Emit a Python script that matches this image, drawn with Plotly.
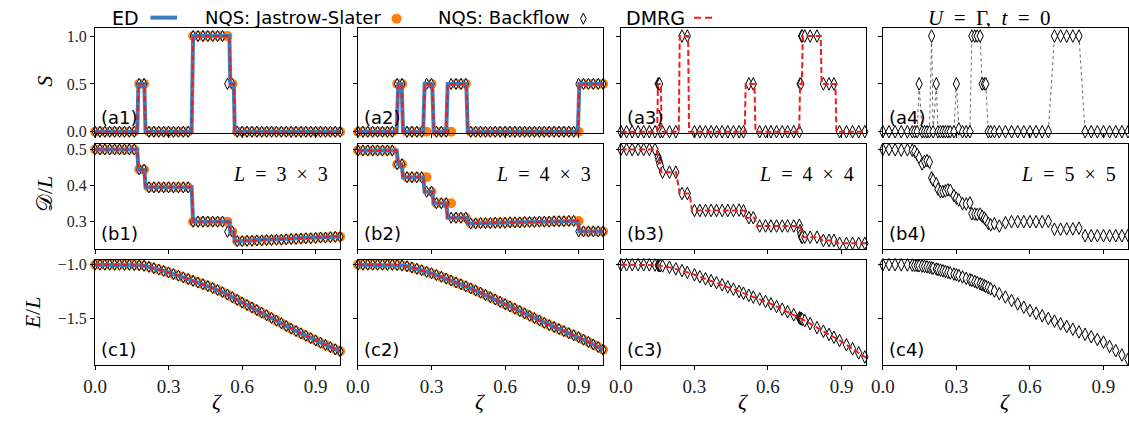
import plotly.graph_objects as go

# ---------------- data ----------------
ZETA_GRID = [0.0, 0.02, 0.04, 0.06, 0.08, 0.1, 0.12, 0.14, 0.16, 0.18,
             0.2, 0.22, 0.24, 0.26, 0.28, 0.3, 0.32, 0.34, 0.36, 0.38,
             0.4, 0.42, 0.44, 0.46, 0.48, 0.5, 0.52, 0.54, 0.56, 0.58,
             0.6, 0.62, 0.64, 0.66, 0.68, 0.7, 0.72, 0.74, 0.76, 0.78,
             0.8, 0.82, 0.84, 0.86, 0.88, 0.9, 0.92, 0.94, 0.96, 0.98, 1.0]
ZETA_COARSE = [0.0, 0.05, 0.1, 0.15, 0.2, 0.25, 0.3, 0.35, 0.4, 0.45, 0.5,
               0.55, 0.6, 0.65, 0.7, 0.75, 0.8, 0.85, 0.9, 0.95, 1.0]

# L = 3x3
ED_STEPS_3x3 = [0, 0.172, 0.177, 0.201, 0.206, 0.394, 0.40, 0.548, 0.552, 0.566, 0.57, 1.0]
S_ED_3x3 = [0, 0, 0.5, 0.5, 0, 0, 1, 1, 0.5, 0.5, 0, 0]
D_ED_3x3 = [0.5, 0.5, 0.444, 0.444, 0.395, 0.395, 0.30, 0.30, 0.272, 0.272, 0.246, 0.259]
S_JS_3x3 = [0, 0, 0, 0, 0, 0, 0, 0, 0, 0.5,
            0.5, 0, 0, 0, 0, 0, 0, 0, 0, 0,
            1, 1, 1, 1, 1, 1, 1, 1, 0.5, 0,
            0, 0, 0, 0, 0, 0, 0, 0, 0, 0,
            0, 0, 0, 0, 0, 0, 0, 0, 0, 0, 0]
S_BF_3x3 = [0, 0, 0, 0, 0, 0, 0, 0, 0, 0.5,
            0.5, 0, 0, 0, 0, 0, 0, 0, 0, 0,
            1, 1, 1, 1, 1, 1, 1, 0.5, 0.5, 0,
            0, 0, 0, 0, 0, 0, 0, 0, 0, 0,
            0, 0, 0, 0, 0, 0, 0, 0, 0, 0, 0]
D_JS_3x3 = [0.5, 0.5, 0.5, 0.5, 0.5, 0.5, 0.5, 0.5, 0.5, 0.445,
            0.444, 0.395, 0.395, 0.395, 0.395, 0.395, 0.395, 0.395, 0.395, 0.395,
            0.30, 0.30, 0.30, 0.30, 0.30, 0.30, 0.30, 0.30, 0.272, 0.246,
            0.246, 0.247, 0.247, 0.248, 0.248, 0.249, 0.249, 0.25, 0.25, 0.251,
            0.252, 0.252, 0.253, 0.254, 0.254, 0.255, 0.256, 0.256, 0.257, 0.258, 0.258]
D_BF_3x3 = [0.5, 0.5, 0.5, 0.5, 0.5, 0.5, 0.5, 0.5, 0.5, 0.445,
            0.444, 0.395, 0.395, 0.395, 0.395, 0.395, 0.395, 0.395, 0.395, 0.395,
            0.30, 0.30, 0.30, 0.30, 0.30, 0.30, 0.30, 0.272, 0.272, 0.246,
            0.246, 0.247, 0.247, 0.248, 0.248, 0.249, 0.249, 0.25, 0.25, 0.251,
            0.252, 0.252, 0.253, 0.254, 0.254, 0.255, 0.256, 0.256, 0.257, 0.258, 0.258]
E_3x3 = [-1.0, -1.0, -1.0, -1.0, -1.0, -1.0, -1.001, -1.001, -1.003, -1.005,
         -1.01, -1.02, -1.032, -1.045, -1.058, -1.072, -1.087, -1.102, -1.118, -1.134,
         -1.15, -1.166, -1.182, -1.199, -1.217, -1.235, -1.256, -1.278, -1.302, -1.327,
         -1.352, -1.375, -1.398, -1.422, -1.446, -1.47, -1.495, -1.52, -1.545, -1.57,
         -1.595, -1.617, -1.639, -1.661, -1.683, -1.705, -1.726, -1.747, -1.767, -1.787, -1.806]

# L = 4x3
ED_STEPS_4x3 = [0, 0.158, 0.164, 0.178, 0.184, 0.266, 0.272, 0.303, 0.309, 0.36,
                0.366, 0.442, 0.448, 0.897, 0.903, 1.0]
S_ED_4x3 = [0, 0, 0.5, 0.5, 0, 0, 0.5, 0.5, 0, 0, 0.5, 0.5, 0, 0, 0.5, 0.5]
D_ED_4x3 = [0.497, 0.497, 0.459, 0.459, 0.423, 0.423, 0.383, 0.383, 0.351, 0.351,
            0.311, 0.311, 0.295, 0.302, 0.273, 0.273]
S_JS_4x3 = [0, 0, 0, 0, 0, 0, 0, 0, 0.5, 0.5,
            0, 0, 0, 0, 0, 0.5, 0, 0, 0, 0,
            0.5, 0.5, 0.5, 0, 0, 0, 0, 0, 0, 0,
            0, 0, 0, 0, 0, 0, 0, 0, 0, 0,
            0, 0, 0, 0, 0, 0, 0.5, 0.5, 0.5, 0.5, 0.5]
S_BF_4x3 = [0, 0, 0, 0, 0, 0, 0, 0, 0.5, 0.5,
            0, 0, 0, 0, 0.5, 0.5, 0, 0, 0, 0.5,
            0.5, 0.5, 0.5, 0, 0, 0, 0, 0, 0, 0,
            0, 0, 0, 0, 0, 0, 0, 0, 0, 0,
            0, 0, 0, 0, 0, 0.5, 0.5, 0.5, 0.5, 0.5, 0.5]
D_JS_4x3 = [0.497, 0.497, 0.497, 0.497, 0.497, 0.497, 0.497, 0.497, 0.459, 0.459,
            0.423, 0.423, 0.423, 0.423, 0.423, 0.383, 0.351, 0.351, 0.351, 0.351,
            0.311, 0.311, 0.311, 0.295, 0.295, 0.296, 0.296, 0.296, 0.297, 0.297,
            0.297, 0.298, 0.298, 0.298, 0.299, 0.299, 0.299, 0.3, 0.3, 0.3,
            0.301, 0.301, 0.301, 0.302, 0.302, 0.302, 0.273, 0.273, 0.273, 0.273, 0.273]
D_BF_4x3 = [0.497, 0.497, 0.497, 0.497, 0.497, 0.497, 0.497, 0.497, 0.459, 0.459,
            0.423, 0.423, 0.423, 0.423, 0.383, 0.383, 0.351, 0.351, 0.351, 0.311,
            0.311, 0.311, 0.311, 0.295, 0.295, 0.296, 0.296, 0.296, 0.297, 0.297,
            0.297, 0.298, 0.298, 0.298, 0.299, 0.299, 0.299, 0.3, 0.3, 0.3,
            0.301, 0.301, 0.301, 0.302, 0.302, 0.273, 0.273, 0.273, 0.273, 0.273, 0.273]
E_4x3 = [-1.0, -1.0, -1.0, -1.0, -1.0, -1.0, -1.001, -1.001, -1.003, -1.008,
         -1.015, -1.026, -1.038, -1.052, -1.066, -1.08, -1.096, -1.112, -1.129, -1.147,
         -1.165, -1.183, -1.201, -1.22, -1.24, -1.26, -1.281, -1.302, -1.323, -1.345,
         -1.367, -1.388, -1.409, -1.431, -1.453, -1.475, -1.497, -1.519, -1.541, -1.562,
         -1.58, -1.599, -1.618, -1.637, -1.656, -1.675, -1.697, -1.719, -1.742, -1.766, -1.79]

# L = 4x4  (NQS backflow + DMRG)
ZETA_4x4 = [0.0, 0.023, 0.046, 0.07, 0.093, 0.116, 0.139, 0.152, 0.155, 0.158,
            0.161, 0.17, 0.198, 0.224, 0.249, 0.271, 0.3, 0.322, 0.345, 0.368,
            0.39, 0.413, 0.436, 0.459, 0.482, 0.5, 0.522, 0.54, 0.566, 0.59,
            0.612, 0.635, 0.658, 0.68, 0.705, 0.728, 0.731, 0.734, 0.737, 0.74,
            0.75, 0.772, 0.8, 0.826, 0.849, 0.869, 0.892, 0.92, 0.945, 0.97, 0.995]
S_BF_4x4 = [0, 0, 0, 0, 0, 0, 0, 0.5, 0.5, 0.5,
            0, 0, 0, 0, 1, 1, 0, 0, 0, 0,
            0, 0, 0, 0, 0, 0, 0.5, 0.5, 0, 0,
            0, 0, 0, 0, 0, 0, 0.5, 0.5, 1, 1,
            1, 1, 1, 0.5, 0.5, 0.5, 0, 0, 0, 0, 0]
D_BF_4x4 = [0.5, 0.5, 0.5, 0.5, 0.5, 0.5, 0.5, 0.478, 0.47, 0.462,
            0.455, 0.437, 0.437, 0.437, 0.378, 0.378, 0.331, 0.331, 0.331, 0.331,
            0.331, 0.331, 0.331, 0.331, 0.332, 0.33, 0.311, 0.311, 0.288, 0.288,
            0.288, 0.288, 0.288, 0.288, 0.288, 0.29, 0.275, 0.265, 0.257, 0.257,
            0.257, 0.257, 0.257, 0.248, 0.248, 0.248, 0.24, 0.24, 0.24, 0.24, 0.24]
E_BF_4x4 = [-1.0, -1.0, -1.0, -1.0, -1.0, -1.001, -1.003, -1.005, -1.006, -1.007,
            -1.008, -1.011, -1.024, -1.039, -1.055, -1.071, -1.094, -1.112, -1.131, -1.149,
            -1.167, -1.187, -1.207, -1.228, -1.249, -1.265, -1.285, -1.301, -1.32, -1.342,
            -1.364, -1.389, -1.414, -1.438, -1.466, -1.494, -1.497, -1.501, -1.504, -1.508,
            -1.52, -1.548, -1.585, -1.619, -1.649, -1.675, -1.705, -1.745, -1.782, -1.82, -1.858]
DMRG_S_STEPS_4x4 = [0, 0.148, 0.151, 0.163, 0.166, 0.236, 0.24, 0.274, 0.278, 0.505, 0.509,
                    0.545, 0.549, 0.727, 0.731, 0.738, 0.742, 0.815, 0.819, 0.875, 0.879, 1.0]
S_DMRG_4x4 = [0, 0, 0.5, 0.5, 0, 0, 1, 1, 0, 0, 0.5, 0.5, 0, 0, 0.5, 0.5, 1, 1, 0.5, 0.5, 0, 0]
DMRG_D_STEPS_4x4 = [0, 0.145, 0.16, 0.165, 0.225, 0.24, 0.28, 0.29, 0.505, 0.51,
                    0.545, 0.555, 0.73, 0.745, 0.815, 0.82, 0.875, 0.88, 1.0]
D_DMRG_4x4 = [0.5, 0.5, 0.46, 0.437, 0.437, 0.378, 0.378, 0.331, 0.331, 0.311,
              0.311, 0.288, 0.288, 0.257, 0.257, 0.248, 0.248, 0.24, 0.24]
E_DMRG_4x4 = [-1.0, -1.0, -1.0, -1.005, -1.025, -1.055, -1.094, -1.135, -1.175, -1.22, -1.265,
              -1.305, -1.352, -1.405, -1.46, -1.52, -1.585, -1.65, -1.715, -1.79, -1.866]

# L = 5x5 (U = Gamma, t = 0), NQS backflow only
ZETA_5x5 = [0.0, 0.025, 0.05, 0.075, 0.1, 0.12, 0.13, 0.14, 0.148, 0.16,
            0.17, 0.18, 0.19, 0.199, 0.205, 0.218, 0.225, 0.235, 0.245, 0.255,
            0.265, 0.275, 0.29, 0.30, 0.31, 0.325, 0.34, 0.355, 0.363, 0.375,
            0.385, 0.397, 0.405, 0.414, 0.42, 0.43, 0.44, 0.455, 0.475, 0.5,
            0.525, 0.55, 0.575, 0.6, 0.625, 0.65, 0.675, 0.7, 0.725, 0.75,
            0.775, 0.8, 0.825, 0.85, 0.875, 0.9, 0.925, 0.95, 0.975, 1.0]
S_5x5 = [0, 0, 0, 0, 0, 0, 0, 0, 0.5, 0,
         0, 0, 0, 1.0, 0, 0.5, 0, 0, 0, 0,
         0, 0, 0, 0.5, 0.03, 0, 0, 0, 1.0, 1.0,
         1.0, 1.0, 0.5, 0.5, 0.5, 0, 0, 0, 0, 0,
         0, 0, 0, 0, 0, 0, 0, 1.0, 1.0, 1.0,
         1.0, 1.0, 0, 0, 0, 0, 0, 0, 0, 0]
D_5x5 = [0.5, 0.5, 0.499, 0.498, 0.499, 0.498, 0.495, 0.486, 0.477, 0.46,
         0.467, 0.469, 0.465, 0.421, 0.415, 0.405, 0.39, 0.383, 0.383, 0.385,
         0.388, 0.387, 0.372, 0.365, 0.36, 0.35, 0.349, 0.352, 0.322, 0.321,
         0.32, 0.321, 0.315, 0.31, 0.305, 0.295, 0.291, 0.294, 0.288, 0.297,
         0.3, 0.3, 0.3, 0.3, 0.3, 0.3, 0.301, 0.279, 0.279, 0.28,
         0.28, 0.282, 0.261, 0.261, 0.261, 0.261, 0.261, 0.261, 0.261, 0.262]
E_5x5 = [-1.0, -1.0, -1.0, -1.001, -1.002, -1.004, -1.006, -1.008, -1.01, -1.013,
         -1.016, -1.02, -1.025, -1.03, -1.033, -1.04, -1.045, -1.051, -1.057, -1.063,
         -1.07, -1.077, -1.087, -1.094, -1.102, -1.114, -1.127, -1.139, -1.146, -1.157,
         -1.166, -1.177, -1.185, -1.195, -1.202, -1.213, -1.225, -1.245, -1.27, -1.3,
         -1.333, -1.365, -1.396, -1.427, -1.451, -1.475, -1.5, -1.525, -1.55, -1.575,
         -1.6, -1.625, -1.648, -1.67, -1.695, -1.72, -1.76, -1.8, -1.84, -1.88]

SIZE_LABELS = ["<i>L</i>\u2002=\u20023\u2002×\u20023", "<i>L</i>\u2002=\u20024\u2002×\u20023",
               "<i>L</i>\u2002=\u20024\u2002×\u20024", "<i>L</i>\u2002=\u20025\u2002×\u20025"]
ROW_LETTERS = ["a", "b", "c"]
X_TICKS = [0.0, 0.3, 0.6, 0.9]
X_TICKTEXT = ["0.0", "0.3", "0.6", "0.9"]
Y_TICKS = [[0.0, 0.5, 1.0], [0.3, 0.4, 0.5], [-1.5, -1.0]]
Y_TICKTEXT = [["0.0", "0.5", "1.0"], ["0.3", "0.4", "0.5"], ["\u22121.5", "\u22121.0"]]
Y_RANGES = [[-0.012, 1.08], [0.224, 0.516], [-1.936, -0.955]]

# ---------------- layout geometry (pixels) ----------------
W, H = 1129, 428
COL_PX = [(84, 332), (350, 598), (616, 864), (881, 1129)]
ROW_PX = [(26, 133), (144, 252), (263, 371)]
SERIF = "Liberation Serif"
SANS = "DejaVu Sans"

BLUE = "#3a7fc1"
ORANGE = "#ff7f0e"
RED = "#ee1c1c"

fig = go.Figure()


def ids(r, c):
    n = r * 4 + c + 1
    s = "" if n == 1 else str(n)
    return "x" + s, "y" + s, "xaxis" + s, "yaxis" + s


def add(r, c, x, y, **kw):
    xr, yr, _, _ = ids(r, c)
    fig.add_trace(go.Scatter(x=x, y=y, xaxis=xr, yaxis=yr, showlegend=False,
                             hoverinfo="skip", cliponaxis=False, **kw))


JS_STYLE = dict(mode="markers", marker=dict(symbol="circle", size=10, color=ORANGE, line=dict(width=0)))
BF_STYLE = dict(mode="markers", marker=dict(symbol="diamond-tall", size=8, color="white",
                                            line=dict(color="black", width=1)))
BF_STYLE_BIG = dict(mode="markers", marker=dict(symbol="diamond-tall", size=9, color="white",
                                                line=dict(color="black", width=1)))
ED_STYLE = dict(mode="lines", line=dict(color=BLUE, width=4))
DMRG_STYLE = dict(mode="lines", line=dict(color=RED, width=2, dash="6px,3px"))

# columns 1 & 2: ED, NQS JS, NQS BF, DMRG
small = [
    (ED_STEPS_3x3, S_ED_3x3, D_ED_3x3, S_JS_3x3, S_BF_3x3, D_JS_3x3, D_BF_3x3, E_3x3),
    (ED_STEPS_4x3, S_ED_4x3, D_ED_4x3, S_JS_4x3, S_BF_4x3, D_JS_4x3, D_BF_4x3, E_4x3),
]
for c, (steps, s_ed, d_ed, s_js, s_bf, d_js, d_bf, e) in enumerate(small):
    add(0, c, ZETA_GRID, s_js, **JS_STYLE)
    add(0, c, ZETA_GRID, s_bf, **BF_STYLE)
    add(0, c, steps, s_ed, **ED_STYLE)
    add(0, c, steps, s_ed, **DMRG_STYLE)
    add(1, c, ZETA_GRID, d_js, **JS_STYLE)
    add(1, c, ZETA_GRID, d_bf, **BF_STYLE)
    add(1, c, steps, d_ed, **ED_STYLE)
    add(1, c, steps, d_ed, **DMRG_STYLE)
    add(2, c, ZETA_GRID, e, **JS_STYLE)
    add(2, c, ZETA_GRID, e, **BF_STYLE)
    add(2, c, ZETA_GRID, e, **ED_STYLE)
    add(2, c, ZETA_GRID, e, **DMRG_STYLE)

# column 3: BF + DMRG
add(0, 2, ZETA_4x4, S_BF_4x4, **BF_STYLE_BIG)
add(0, 2, DMRG_S_STEPS_4x4, S_DMRG_4x4, **DMRG_STYLE)
add(1, 2, ZETA_4x4, D_BF_4x4, **BF_STYLE_BIG)
add(1, 2, DMRG_D_STEPS_4x4, D_DMRG_4x4, **DMRG_STYLE)
add(2, 2, ZETA_4x4, E_BF_4x4, **BF_STYLE_BIG)
add(2, 2, ZETA_COARSE, E_DMRG_4x4, **DMRG_STYLE)

# column 4: BF with dotted connecting line
for r, vals in enumerate([S_5x5, D_5x5, E_5x5]):
    add(r, 3, ZETA_5x5, vals, mode="lines+markers",
        line=dict(color="#444444", width=0.8, dash="dot"),
        marker=dict(symbol="diamond-tall", size=9, color="white", line=dict(color="black", width=1)))

# axes
layout_axes = {}
for r in range(3):
    for c in range(4):
        xr, yr, xk, yk = ids(r, c)
        x0, x1 = COL_PX[c]
        yt, yb = ROW_PX[r]
        layout_axes[xk] = dict(domain=[x0 / W, x1 / W], range=[0, 1.0], anchor=yr,
                               showline=True, mirror=True, linecolor="black", linewidth=1,
                               ticks="outside", ticklen=4, tickwidth=1, tickcolor="black",
                               tickvals=X_TICKS, ticktext=X_TICKTEXT,
                               showticklabels=(r == 2), showgrid=False, zeroline=False,
                               tickfont=dict(family=SERIF, size=19, color="#222"))
        layout_axes[yk] = dict(domain=[1 - yb / H, 1 - yt / H], range=Y_RANGES[r], anchor=xr,
                               showline=True, mirror=True, linecolor="black", linewidth=1,
                               ticks="outside", ticklen=4, tickwidth=1, tickcolor="black",
                               tickvals=Y_TICKS[r], ticktext=Y_TICKTEXT[r],
                               showticklabels=(c == 0), showgrid=False, zeroline=False,
                               tickfont=dict(family=SERIF, size=16, color="#222"))

# overlay axis in pixel units for legend / labels
layout_axes["xaxis13"] = dict(domain=[0, 1], range=[0, W], visible=False, fixedrange=True)
layout_axes["yaxis13"] = dict(domain=[0, 1], range=[H, 0], visible=False, fixedrange=True)

# legend samples (text then marker, as in the reference)
fig.add_trace(go.Scatter(x=[140, 167], y=[15, 15], xaxis="x13", yaxis="y13", mode="lines",
                         line=dict(color=BLUE, width=4), showlegend=False, hoverinfo="skip"))
fig.add_trace(go.Scatter(x=[389], y=[16], xaxis="x13", yaxis="y13", mode="markers",
                         marker=dict(symbol="circle", size=10, color=ORANGE), showlegend=False,
                         hoverinfo="skip"))
fig.add_trace(go.Scatter(x=[578], y=[16], xaxis="x13", yaxis="y13", mode="markers",
                         marker=dict(symbol="diamond-tall", size=8, color="white",
                                     line=dict(color="black", width=1)),
                         showlegend=False, hoverinfo="skip"))
fig.add_trace(go.Scatter(x=[690, 711], y=[15, 15], xaxis="x13", yaxis="y13", mode="lines",
                         line=dict(color=RED, width=2, dash="7px,4px"), showlegend=False,
                         hoverinfo="skip"))

ann = []


def text(x, y, t, size, family=SANS, xanchor="left", yanchor="middle", angle=0, color="black"):
    ann.append(dict(x=x, y=y, xref="x13", yref="y13", text=t, showarrow=False,
                    xanchor=xanchor, yanchor=yanchor, textangle=angle,
                    font=dict(family=family, size=size, color=color)))


text(99, 15, "ED", 19)
text(193, 15, "NQS: Jastrow-Slater", 18)
text(429, 15, "NQS: Backflow", 18)
text(619, 15, "DMRG", 19)
text(989, 15, "<i>U</i>\u2002=\u2002Γ,\u2002<i>t</i>\u2002=\u20020", 21, family=SERIF, xanchor="center")

for c in range(4):
    x0, x1 = COL_PX[c]
    text(x1 - 10, 175, SIZE_LABELS[c], 20, family=SERIF, xanchor="right")
    text((x0 + x1) / 2, 408, "<i>ζ</i>", 22, family=SERIF, xanchor="center")
    for r in range(3):
        yt, yb = ROW_PX[r]
        text(x0 + 4, yb - 16, "(%s%d)" % (ROW_LETTERS[r], c + 1), 18)

text(33, 80, "<i>S</i>", 22, family=SERIF, xanchor="center", angle=-90)
text(33, 196, "𝒟/<i>L</i>", 22, family=SERIF, xanchor="center", angle=-90)
text(21, 317, "<i>E</i>/<i>L</i>", 22, family=SERIF, xanchor="center", angle=-90)

fig.update_layout(width=W, height=H, margin=dict(l=0, r=0, t=0, b=0),
                  paper_bgcolor="white", plot_bgcolor="rgba(0,0,0,0)",
                  showlegend=False, annotations=ann, **layout_axes)

fig.write_html("out.html")
